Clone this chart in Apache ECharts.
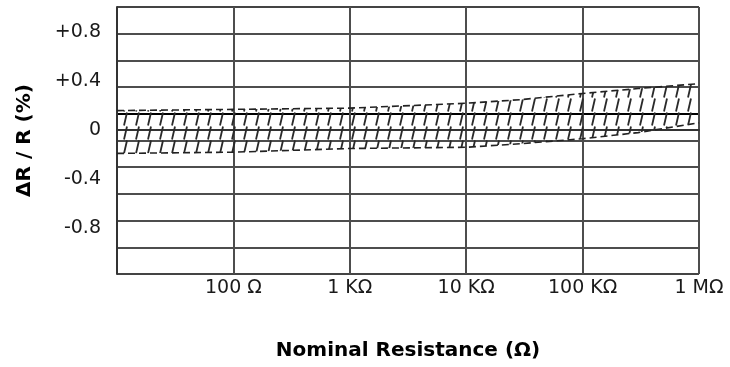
<!DOCTYPE html>
<html><head><meta charset="utf-8">
<script src="https://cdn.jsdelivr.net/npm/echarts@6/dist/echarts.min.js"></script>
<style>html,body{margin:0;padding:0;background:#fff}#c{width:730px;height:367px}</style>
</head><body><div id="c"></div>
<script>
// ---- data ----
const resistance = [10, 100, 1000, 10000, 30000, 100000, 300000, 1000000];
const upperLimit = [0.16, 0.17, 0.18, 0.22, 0.25, 0.30, 0.34, 0.38];
const lowerLimit = [-0.19, -0.18, -0.15, -0.14, -0.11, -0.07, -0.02, 0.06];
const yTickValues = [0.8, 0.4, 0, -0.4, -0.8];
const yTickLabels = ['+0.8', '+0.4', '0', '-0.4', '-0.8'];
const xTickValues = [100, 1000, 10000, 100000, 1000000];
const xTickLabels = ['100 Ω', '1 KΩ', '10 KΩ', '100 KΩ', '1 MΩ'];

// hatch pattern
const pat = document.createElement('canvas');
pat.width = 12; pat.height = 14;
const g = pat.getContext('2d');
g.strokeStyle = '#2a2a2a'; g.lineWidth = 1.8; g.lineCap = 'butt';
g.beginPath(); g.moveTo(4, 13.5); g.lineTo(7, 0.5); g.stroke();

const gridColors = ['#444','#4d4d4d','#4d4d4d','#4d4d4d','#4d4d4d','#4d4d4d','#000','#4d4d4d','#4d4d4d','#4d4d4d','#444'];
const font = 'DejaVu Sans, sans-serif';

const chart = echarts.init(document.getElementById('c'), null, {renderer: 'canvas'});
chart.setOption({
  backgroundColor: '#fff',
  animation: false,
  grid: {left: 117, right: 31, top: 7, bottom: 93, containLabel: false},
  xAxis: {
    type: 'log', logBase: 10, min: 10, max: 1000000,
    name: 'Nominal Resistance (Ω)', nameLocation: 'middle', nameGap: 67,
    nameTextStyle: {fontFamily: font, fontWeight: 'bold', fontSize: 20, color: '#000'},
    axisLine: {show: true, lineStyle: {color: '#333', width: 2}},
    axisTick: {show: false},
    splitLine: {show: true, lineStyle: {color: '#4d4d4d', width: 2}},
    minorTick: {show: false},
    axisLabel: {
      fontFamily: font, fontSize: 19, color: '#1a1a1a', margin: 5,
      formatter: function (v) {
        const i = xTickValues.findIndex(t => Math.abs(Math.log10(t) - Math.log10(v)) < 1e-6);
        return i >= 0 ? xTickLabels[i] : '';
      }
    }
  },
  yAxis: [{
    type: 'value', min: -1.1755, max: 1.0065,
    name: 'ΔR / R (%)', nameLocation: 'middle', nameGap: 82, nameRotate: 90,
    nameTextStyle: {fontFamily: font, fontWeight: 'bold', fontSize: 20, color: '#000'},
    axisLine: {show: true, lineStyle: {color: '#333', width: 2}},
    axisTick: {show: false},
    splitLine: {show: false},
    axisLabel: {
      fontFamily: font, fontSize: 19, color: '#1a1a1a', margin: 16,
      customValues: yTickValues,
      formatter: function (v) {
        const i = yTickValues.findIndex(t => Math.abs(t - v) < 1e-9);
        return i >= 0 ? yTickLabels[i] : '';
      }
    }
  }, {
    type: 'value', min: -1, max: 1, interval: 0.2, position: 'left',
    axisLine: {show: false}, axisTick: {show: false}, axisLabel: {show: false},
    splitLine: {show: true, lineStyle: {color: gridColors, width: 2}}
  }],
  series: [{
    type: 'custom', coordinateSystem: 'cartesian2d', yAxisIndex: 0, z: 3,
    data: resistance.map((r, i) => [r, upperLimit[i], lowerLimit[i]]),
    encode: {x: 0, y: [1, 2]},
    renderItem: function (params, api) {
      if (params.dataIndex !== 0) return null;
      const up = resistance.map((r, i) => api.coord([r, upperLimit[i]]));
      const lo = resistance.map((r, i) => api.coord([r, lowerLimit[i]]));
      return {
        type: 'group',
        children: [
          {type: 'polygon', shape: {points: up.concat(lo.slice().reverse())},
           style: {fill: {image: pat, repeat: 'repeat'}, stroke: null}},
          {type: 'polyline', shape: {points: up},
           style: {stroke: '#222', lineWidth: 1.6, lineDash: [7, 4], fill: null}},
          {type: 'polyline', shape: {points: lo},
           style: {stroke: '#222', lineWidth: 1.6, lineDash: [7, 4], fill: null}}
        ]
      };
    }
  }]
});
</script></body></html>
